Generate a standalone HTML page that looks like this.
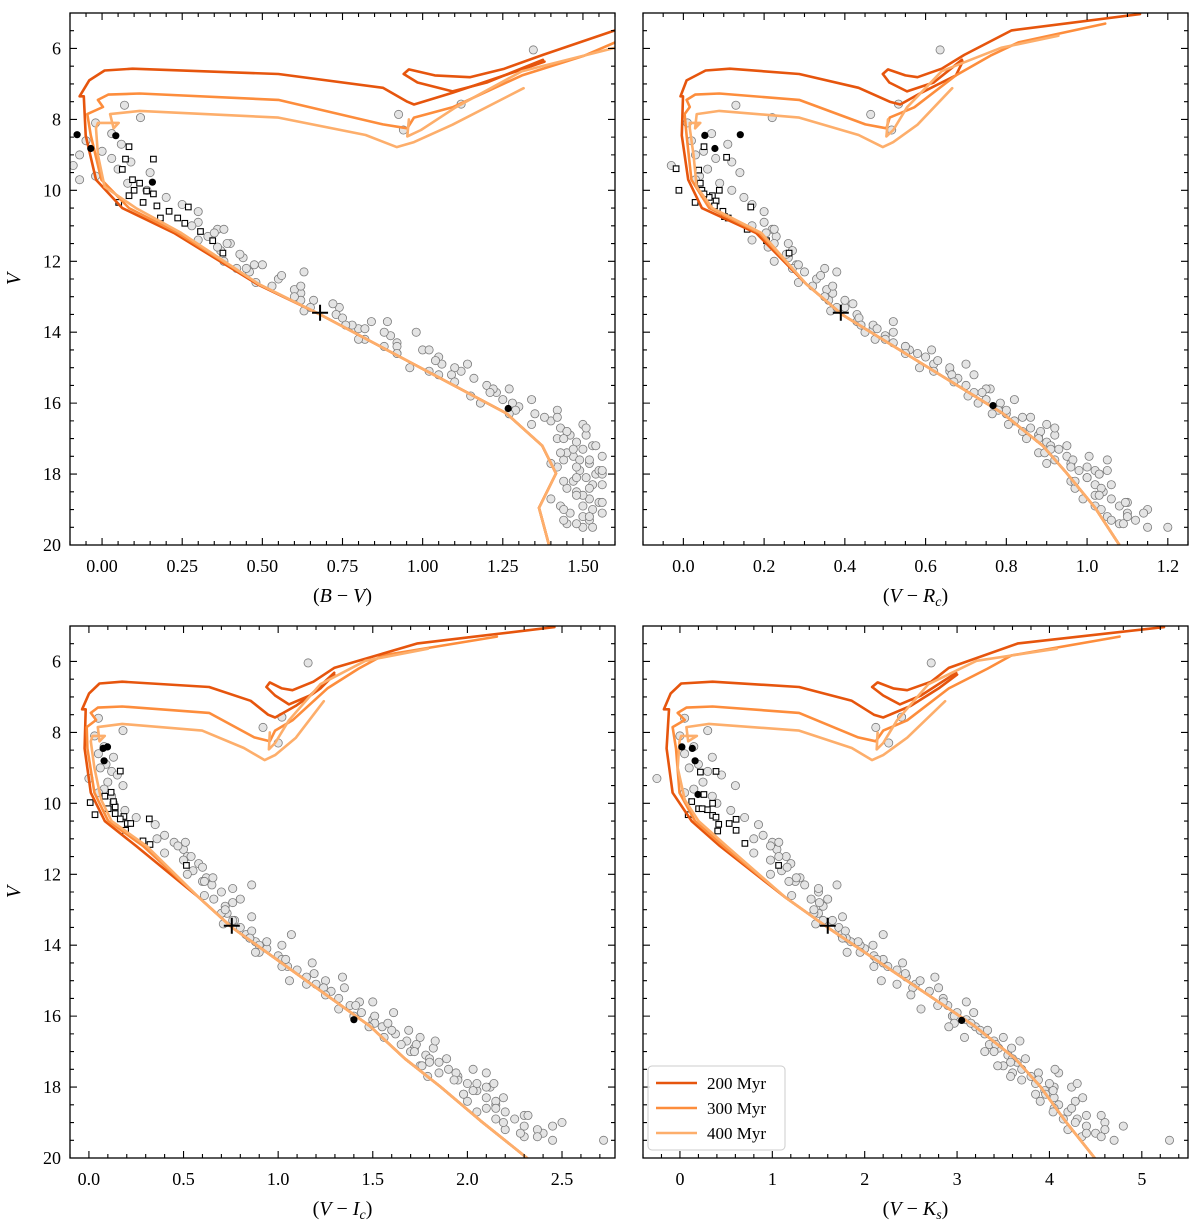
<!DOCTYPE html>
<html><head><meta charset="utf-8"><style>
html,body{margin:0;padding:0;background:#fff;}
svg{display:block;}
text{font-family:"Liberation Serif",serif;fill:#000;}
</style></head><body>
<svg id="chart" width="1200" height="1225" viewBox="0 0 1200 1225" xmlns="http://www.w3.org/2000/svg"></svg>
<script>
// ---- star data (shared V, per-panel colours) ----
const starV  =[7.6,7.95,8.1,8.4,8.6,8.7,8.9,9.0,9.1,9.2,9.3,9.4,9.5,9.6,9.7,9.8,10.0,10.2,10.4,10.6,10.9,11.1,11.3,11.5,11.7,11.9,12.1,12.3,12.5,12.7,12.9,13.1,13.3,13.5,13.7,13.9,14.1,14.0,14.3,14.5,14.7,14.6,14.9,15.1,15.3,15.5,15.7,15.9,16.1,16.3,16.5,16.7,16.9,17.1,17.3,17.5,17.7,17.9,18.1,18.3,18.5,18.7,18.9,19.1,19.3,19.5,17.0,17.6,18.0,18.4,18.8,19.4,15.2,13.1,12.2,14.2,16.6,17.8,19.0,16.0,6.04,7.86,8.3,7.57,16.4,16.8,17.2,17.4,17.9,18.2,18.6,19.2,19.5,15.6,16.2,17.6,18.9,15.0,14.4,13.8,
 11.0,11.2,11.4,11.6,11.8,12.0,12.2,12.4,12.6,12.8,13.0,13.2,13.4,13.6,13.8,14.0,14.2,14.4,14.6,14.8,15.0,15.2,15.4,15.6,15.8,16.0,16.2,16.4,16.6,16.8,17.0,17.2,17.4,17.6,17.8,18.0,18.2,18.4,18.6,18.8,19.0,19.2,19.4,
 11.1,11.5,12.1,12.7,13.3,13.9,14.5,15.1,15.7,16.3,16.9,17.3,17.7,17.9,18.3,18.7,19.1,19.3,18.1,17.5,16.7,15.9,13.7,12.3,14.9];
const starBV =[0.07,0.12,-0.02,0.03,-0.05,0.06,0.0,-0.07,0.03,0.09,-0.09,0.05,0.15,-0.02,-0.07,0.08,0.14,0.2,0.25,0.3,0.3,0.36,0.33,0.4,0.37,0.44,0.5,0.46,0.55,0.53,0.62,0.66,0.74,0.73,0.84,0.8,0.9,0.98,0.92,1.0,1.05,0.92,1.06,1.12,1.16,1.2,1.23,1.25,1.3,1.35,1.4,1.43,1.46,1.48,1.5,1.47,1.52,1.49,1.51,1.53,1.48,1.52,1.5,1.46,1.52,1.5,1.42,1.44,1.54,1.45,1.55,1.45,1.05,0.62,0.42,0.82,1.5,1.42,1.53,1.18,1.345,0.925,0.94,1.12,1.38,1.45,1.53,1.45,1.55,1.47,1.5,1.5,1.53,1.27,1.42,1.49,1.43,1.1,0.88,0.78,
 0.28,0.35,0.30,0.36,0.43,0.38,0.45,0.56,0.48,0.60,0.6,0.72,0.63,0.75,0.76,0.88,0.80,0.92,0.92,1.04,0.96,1.09,1.1,1.22,1.15,1.28,1.29,1.42,1.34,1.45,1.44,1.54,1.43,1.52,1.48,1.56,1.44,1.52,1.48,1.56,1.44,1.52,1.48,
 0.38,0.39,0.475,0.62,0.65,0.82,1.02,1.02,1.21,1.27,1.51,1.47,1.40,1.56,1.56,1.40,1.56,1.44,1.48,1.56,1.51,1.34,0.89,0.63,1.14];
const starVR =[0.13,0.22,0.01,0.07,0.02,0.11,0.05,0.03,0.08,0.12,-0.03,0.06,0.14,0.04,0.03,0.09,0.12,0.15,0.17,0.2,0.2,0.22,0.23,0.26,0.27,0.26,0.28,0.3,0.33,0.32,0.37,0.36,0.4,0.43,0.43,0.47,0.5,0.45,0.52,0.56,0.6,0.58,0.62,0.66,0.68,0.7,0.72,0.75,0.78,0.8,0.82,0.86,0.88,0.9,0.93,0.95,0.96,0.98,1.0,1.02,1.04,1.06,1.08,1.1,1.12,1.15,0.85,0.92,1.03,0.97,1.1,1.08,0.72,0.4,0.35,0.5,0.9,1.0,1.15,0.73,0.636,0.464,0.516,0.533,0.84,0.84,0.91,0.88,1.02,0.96,1.02,1.05,1.2,0.76,0.8,1.05,1.02,0.66,0.55,0.47,
 0.17,0.205,0.17,0.21,0.255,0.225,0.27,0.34,0.285,0.355,0.35,0.42,0.365,0.435,0.44,0.52,0.475,0.55,0.55,0.63,0.585,0.665,0.67,0.75,0.705,0.785,0.78,0.86,0.805,0.885,0.88,0.95,0.895,0.965,0.96,1.03,0.97,1.035,1.03,1.095,1.035,1.1,1.09,
 0.225,0.225,0.285,0.37,0.38,0.48,0.615,0.62,0.74,0.765,0.92,0.91,0.90,1.05,1.06,0.99,1.14,1.06,1.0,1.005,0.92,0.82,0.52,0.38,0.7];
const starVI =[0.05,0.18,0.03,0.08,0.05,0.13,0.09,0.06,0.12,0.15,0.0,0.1,0.18,0.08,0.05,0.12,0.13,0.19,0.25,0.35,0.4,0.45,0.5,0.52,0.58,0.55,0.62,0.65,0.7,0.66,0.72,0.73,0.77,0.8,0.83,0.88,0.94,0.9,1.0,1.03,1.1,1.05,1.15,1.2,1.28,1.32,1.38,1.44,1.5,1.55,1.62,1.68,1.72,1.78,1.85,1.9,1.95,2.0,2.05,2.1,2.15,2.2,2.25,2.3,2.4,2.45,1.7,1.85,2.12,2.0,2.3,2.3,1.35,0.7,0.6,0.9,1.75,1.95,2.5,1.4,1.158,0.92,1.0,1.02,1.6,1.65,1.8,1.75,2.05,1.98,2.1,2.2,2.72,1.5,1.58,2.1,2.15,1.25,1.02,0.85,
 0.36,0.47,0.40,0.50,0.60,0.52,0.61,0.76,0.61,0.76,0.72,0.86,0.71,0.86,0.85,1.02,0.88,1.04,1.02,1.19,1.06,1.24,1.25,1.43,1.32,1.51,1.51,1.69,1.56,1.73,1.72,1.89,1.76,1.94,1.93,2.1,1.98,2.15,2.15,2.32,2.19,2.37,2.37,
 0.51,0.54,0.655,0.80,0.76,0.94,1.18,1.15,1.41,1.48,1.82,1.8,1.79,2.14,2.19,2.05,2.45,2.28,2.03,2.03,1.83,1.61,1.07,0.86,1.34];
const starVK =[0.05,0.3,0.0,0.15,0.05,0.35,0.2,0.1,0.3,0.45,-0.25,0.25,0.6,0.15,0.05,0.35,0.4,0.55,0.7,0.85,0.9,1.0,1.05,1.15,1.2,1.1,1.3,1.35,1.5,1.42,1.55,1.5,1.65,1.72,1.75,1.85,2.0,1.95,2.1,2.2,2.35,2.25,2.45,2.55,2.7,2.85,2.9,3.0,3.1,3.2,3.3,3.4,3.45,3.55,3.65,3.7,3.8,3.85,3.95,4.05,4.1,4.2,4.3,4.4,4.5,4.7,3.3,3.6,4.05,3.9,4.4,4.35,2.8,1.45,1.25,1.95,3.5,3.7,4.6,2.95,2.72,2.12,2.26,2.4,3.25,3.35,3.6,3.5,4.0,3.85,4.05,4.2,5.3,3.1,3.15,4.1,4.15,2.6,2.2,1.8,
 0.8,0.98,0.80,0.98,1.16,0.98,1.18,1.5,1.21,1.51,1.45,1.76,1.47,1.79,1.76,2.09,1.81,2.13,2.1,2.44,2.18,2.52,2.5,2.85,2.61,2.97,2.97,3.33,3.08,3.42,3.4,3.74,3.44,3.88,3.88,4.24,3.96,4.28,4.24,4.56,4.28,4.6,4.56,
 1.07,1.07,1.26,1.6,1.55,1.93,2.41,2.35,2.79,2.91,3.59,3.58,3.58,4.3,4.36,4.04,4.8,4.4,4.04,4.06,3.68,3.18,2.2,1.7,2.76];

// open squares per panel (colour, V)
const sqBVc=[0.084,0.16,0.073,0.063,0.095,0.117,0.16,0.269,0.1,0.128,0.171,0.209,0.182,0.236,0.307,0.258,0.052,0.084,0.139,0.345,0.377];
const sqBVv=[8.77,9.12,9.12,9.41,9.7,9.8,10.1,10.47,10.0,10.34,10.44,10.59,10.78,10.78,11.16,10.93,10.34,10.15,10.02,11.42,11.77];
const sqVRc=[-0.018,-0.011,0.038,0.051,0.107,0.046,0.072,0.081,0.167,0.098,0.029,0.111,0.158,0.206,0.262,0.102,0.077,0.064,0.042,0.051,0.089];
const sqVRv=[9.39,10.0,9.43,8.77,9.07,10.0,10.15,10.3,10.47,10.59,10.34,10.78,11.1,11.42,11.77,10.74,10.44,10.2,9.8,10.1,10.0];
const sqVIc=[0.007,0.032,0.139,0.166,0.13,0.185,0.319,0.203,0.221,0.194,0.286,0.323,0.515,0.139,0.102,0.117,0.166,0.084];
const sqVIv=[9.98,10.32,10.1,9.09,9.95,10.37,10.44,10.57,10.57,10.76,11.06,11.16,11.75,10.29,10.15,9.69,10.44,9.8];
const sqVKc=[0.089,0.202,0.296,0.39,0.353,0.39,0.608,0.42,0.533,0.608,0.409,0.703,1.068,0.353,0.259,0.221,0.127,0.24];
const sqVKv=[10.32,10.15,10.18,9.1,10.34,10.39,10.45,10.59,10.57,10.76,10.78,11.13,11.75,10.0,9.75,9.12,9.95,10.15];

// filled black dots per panel
const dotBVc=[-0.078,-0.035,0.043,0.157,1.267];
const dotBVv=[8.43,8.82,8.46,9.77,16.15];
const dotVRc=[0.053,0.078,0.141,0.767];
const dotVRv=[8.45,8.82,8.43,16.07];
const dotVIc=[0.075,0.098,0.08,1.4];
const dotVIv=[8.45,8.41,8.8,16.1];
const dotVKc=[0.021,0.134,0.164,0.195,3.05];
const dotVKv=[8.41,8.45,8.8,9.75,16.12];

// plus marker (colour) per panel, V
const plusC=[0.68,0.39,0.755,1.6];
const plusV=13.45;

// ---- isochrones ----
const i200V=[20,18.95,17.98,17.2,16.28,13.5,12.65,11.2,10.5,9.7,8.45,7.35,7.35,6.9,6.62,6.57,6.72,7.11,7.5,7.58,7.25,6.76,6.37];
const i200BV=[1.394,1.363,1.416,1.373,1.26,0.68,0.485,0.224,0.063,-0.019,-0.051,-0.057,-0.07,-0.04,0.008,0.095,0.55,0.876,0.952,0.973,1.093,1.255,1.38];
const i200VR=[1.08,1.02,0.95,0.89,0.79,0.393,0.305,0.18,0.046,0.012,-0.004,-0.001,-0.007,0.008,0.055,0.115,0.287,0.434,0.511,0.537,0.589,0.675,0.692];
const i200VI=[2.315,2.07,1.855,1.67,1.485,0.756,0.58,0.249,0.084,0.01,-0.023,-0.017,-0.036,0.001,0.056,0.176,0.635,0.855,0.947,0.984,1.094,1.223,1.296];
const i200VK=[4.49,4.17,3.9,3.63,3.19,1.6,1.14,0.43,0.127,-0.08,-0.144,-0.118,-0.174,-0.1,0.014,0.353,1.29,1.86,2.1,2.2,2.5,2.8,3.0];
const l200V=[5.03,5.49,6.18,6.57,6.81,6.76,6.59,6.72,6.96,7.21,6.96,6.32];
const l200BV=[1.85,1.6,1.375,1.255,1.147,1.038,0.957,0.941,0.984,1.093,1.2,1.375];
const l200VR=[1.131,0.813,0.696,0.64,0.58,0.55,0.507,0.494,0.51,0.554,0.62,0.69];
const l200VI=[2.46,1.737,1.296,1.186,1.076,1.02,0.956,0.938,0.984,1.057,1.168,1.296];
const l200VK=[5.24,3.66,2.91,2.72,2.46,2.31,2.14,2.08,2.2,2.38,2.61,2.99];

const i300V=[20,18.95,17.98,17.2,16.28,13.5,12.65,11.2,10.5,9.7,8.45,7.85,7.65,7.45,7.3,7.27,7.45,8.14,8.25,7.95,7.66,6.76,6.2,5.83,5.3];
const i300BV=[1.394,1.363,1.416,1.373,1.26,0.68,0.49,0.236,0.084,-0.002,-0.035,-0.046,0.003,-0.013,0.019,0.117,0.55,0.876,0.952,0.973,1.093,1.31,1.505,1.6,1.9];
const i300VR=[1.08,1.02,0.95,0.89,0.79,0.393,0.305,0.188,0.064,0.02,0.008,0.003,0.016,0.008,0.029,0.089,0.287,0.451,0.503,0.511,0.572,0.675,0.761,0.83,1.045];
const i300VI=[2.315,2.07,1.855,1.67,1.485,0.756,0.58,0.286,0.102,0.029,-0.008,-0.012,0.038,0.01,0.047,0.176,0.635,0.874,0.956,0.984,1.076,1.26,1.425,1.553,2.156];
const i300VK=[4.49,4.17,3.9,3.63,3.19,1.6,1.14,0.465,0.164,-0.005,-0.043,-0.08,0.052,-0.024,0.07,0.353,1.29,1.93,2.12,2.2,2.46,2.91,3.33,3.59,4.76];

const i400V=[20,18.95,17.98,17.2,16.28,13.5,12.65,11.2,10.5,9.9,9.0,8.25,8.1,8.1,8.25,7.85,7.76,7.95,8.44,8.78,8.64,8.15,7.12];
const i400BV=[1.394,1.363,1.416,1.373,1.26,0.68,0.49,0.247,0.106,0.008,-0.013,-0.019,-0.013,0.052,0.036,0.025,0.117,0.55,0.822,0.919,0.973,1.093,1.315];
const i400VR=[1.08,1.02,0.95,0.89,0.79,0.393,0.305,0.193,0.072,0.033,0.025,0.016,0.016,0.042,0.029,0.033,0.089,0.287,0.434,0.494,0.52,0.58,0.666];
const i400VI=[2.315,2.07,1.855,1.67,1.485,0.756,0.58,0.304,0.12,0.065,0.029,0.01,0.019,0.084,0.056,0.047,0.176,0.598,0.819,0.929,0.984,1.094,1.241];
const i400VK=[4.49,4.17,3.9,3.63,3.19,1.6,1.14,0.503,0.202,0.052,-0.024,-0.005,0.014,0.183,0.089,0.07,0.315,1.29,1.86,2.08,2.2,2.46,2.87];
const l400V=[8.0,8.48,8.3,7.66,6.64,5.98,5.64];
const l400BV=[0.957,0.952,0.995,1.103,1.31,1.6,1.75];
const l400VR=[0.507,0.503,0.52,0.554,0.64,0.787,0.929];
const l400VI=[0.956,0.951,0.984,1.057,1.223,1.461,1.792];
const l400VK=[2.14,2.13,2.2,2.35,2.69,3.21,4.08];

const ageLabels=["200 Myr","300 Myr","400 Myr"];
const ageColors=["#e6550d","#fd8d3c","#fdae6b"];
const yTicks=[6,8,10,12,14,16,18,20];

const NS="http://www.w3.org/2000/svg";
const svg=document.getElementById('chart');
function mk(tag,attrs,parent){const e=document.createElementNS(NS,tag);for(const k in attrs)e.setAttribute(k,attrs[k]);(parent||svg).appendChild(e);return e;}

const panels=[
 {key:'bv',left:70,top:13,xmin:-0.1,xmax:1.6,ticks:[0,0.25,0.5,0.75,1.0,1.25,1.5],tl:["0.00","0.25","0.50","0.75","1.00","1.25","1.50"],minor:0.05,title:["B","V"],sub:"",ylab:true,
  stars:starBV,sqc:sqBVc,sqv:sqBVv,dc:dotBVc,dv:dotBVv,plus:plusC[0],iso:[[i200BV,i200V],[i300BV,i300V],[i400BV,i400V]],loops:[[l200BV,l200V,0],[l400BV,l400V,2]]},
 {key:'vr',left:643,top:13,xmin:-0.1,xmax:1.25,ticks:[0,0.2,0.4,0.6,0.8,1.0,1.2],tl:["0.0","0.2","0.4","0.6","0.8","1.0","1.2"],minor:0.05,title:["V","R"],sub:"c",ylab:false,
  stars:starVR,sqc:sqVRc,sqv:sqVRv,dc:dotVRc,dv:dotVRv,plus:plusC[1],iso:[[i200VR,i200V],[i300VR,i300V],[i400VR,i400V]],loops:[[l200VR,l200V,0],[l400VR,l400V,2]]},
 {key:'vi',left:70,top:626,xmin:-0.1,xmax:2.78,ticks:[0,0.5,1.0,1.5,2.0,2.5],tl:["0.0","0.5","1.0","1.5","2.0","2.5"],minor:0.1,title:["V","I"],sub:"c",ylab:true,
  stars:starVI,sqc:sqVIc,sqv:sqVIv,dc:dotVIc,dv:dotVIv,plus:plusC[2],iso:[[i200VI,i200V],[i300VI,i300V],[i400VI,i400V]],loops:[[l200VI,l200V,0],[l400VI,l400V,2]]},
 {key:'vk',left:643,top:626,xmin:-0.4,xmax:5.5,ticks:[0,1,2,3,4,5],tl:["0","1","2","3","4","5"],minor:0.2,title:["V","K"],sub:"s",ylab:false,
  stars:starVK,sqc:sqVKc,sqv:sqVKv,dc:dotVKc,dv:dotVKv,plus:plusC[3],iso:[[i200VK,i200V],[i300VK,i300V],[i400VK,i400V]],loops:[[l200VK,l200V,0],[l400VK,l400V,2]]}
];
const W=545,H=532;

panels.forEach((p,pi)=>{
  const X=c=>p.left+(c-p.xmin)/(p.xmax-p.xmin)*W;
  const Y=v=>p.top+(v-5)/15*H;
  const g=mk('g',{});
  
  
  const cp=mk('clipPath',{id:'clip'+pi},g);
  mk('rect',{x:p.left,y:p.top,width:W,height:H},cp);
  const plot=mk('g',{'clip-path':'url(#clip'+pi+')'},g);
  
  
  for(let i=0;i<starV.length;i++){
    const c=mk('circle',{cx:X(p.stars[i]).toFixed(1),cy:Y(starV[i]).toFixed(1),r:4.1,fill:'#e4e4e4',stroke:'#7a7a7a','stroke-width':0.8},plot);
    
    
  }
  for(let i=0;i<p.sqc.length;i++){
    const s=mk('rect',{x:(X(p.sqc[i])-2.8).toFixed(1),y:(Y(p.sqv[i])-2.8).toFixed(1),width:5.6,height:5.6,fill:'#fff',stroke:'#000','stroke-width':1.1},plot);
    
    
  }
  p.iso.forEach((iso,k)=>{
    const pts=iso[0].map((c,j)=>X(c).toFixed(1)+','+Y(iso[1][j]).toFixed(1)).join(' ');
    const l=mk('polyline',{points:pts,fill:'none',stroke:ageColors[k],'stroke-width':2.6,'stroke-linejoin':'round','stroke-linecap':'round'},plot);
    
    
  });
  p.loops.forEach(lp=>{
    const pts=lp[0].map((c,j)=>X(c).toFixed(1)+','+Y(lp[1][j]).toFixed(1)).join(' ');
    const l=mk('polyline',{points:pts,fill:'none',stroke:ageColors[lp[2]],'stroke-width':2.6,'stroke-linejoin':'round','stroke-linecap':'round'},plot);
    
    
  });
  for(let i=0;i<p.dc.length;i++){
    const d=mk('circle',{cx:X(p.dc[i]).toFixed(1),cy:Y(p.dv[i]).toFixed(1),r:3.6,fill:'#000'},plot);
    
    
  }
  const px=X(p.plus),py=Y(plusV);
  const pl=mk('path',{d:`M${px-8},${py}H${px+8}M${px},${py-8}V${py+8}`,stroke:'#000','stroke-width':2,fill:'none'},plot);
  
  
  const fr=mk('rect',{x:p.left,y:p.top,width:W,height:H,fill:'none',stroke:'#000','stroke-width':1.3},g);
  
  
  let d='';
  const bot=p.top+H,right=p.left+W;
  for(let v=5;v<=20.001;v+=0.5){
    const y=Y(v),len=(Math.abs(v-Math.round(v/2)*2)<0.01)?7:4;
    d+=`M${p.left},${y}h${len}M${right},${y}h${-len}`;
  }
  const mstart=Math.ceil(p.xmin/p.minor-1e-6);
  for(let m=mstart;m*p.minor<=p.xmax+1e-9;m++){
    const c=m*p.minor,x=X(c);
    const isMaj=p.ticks.some(t=>Math.abs(t-c)<1e-6);
    const len=isMaj?7:4;
    d+=`M${x},${bot}v${-len}M${x},${p.top}v${len}`;
  }
  const tk=mk('path',{d:d,stroke:'#000','stroke-width':1.1,fill:'none'},g);
  
  
  p.ticks.forEach((t,i)=>{
    const tx=mk('text',{x:X(t),y:bot+27,'text-anchor':'middle','font-size':18},g);
    tx.textContent=p.tl[i];
    
    
  });
  if(p.ylab){
    yTicks.forEach(t=>{
      const tx=mk('text',{x:p.left-9,y:Y(t)+6,'text-anchor':'end','font-size':18},g);
      tx.textContent=String(t);
      
      
    });
    const yl=mk('text',{x:0,y:0,transform:`translate(20,${p.top+H/2}) rotate(-90)`,'text-anchor':'middle','font-size':20,'font-style':'italic'},g);
    yl.textContent='V';
    
    
  }
  const xt=mk('text',{x:p.left+W/2,y:bot+57,'text-anchor':'middle','font-size':20},g);
  
  
  const s1=mk('tspan',{},xt);s1.textContent='(';
  const s2=mk('tspan',{'font-style':'italic'},xt);s2.textContent=p.title[0];
  const s3=mk('tspan',{},xt);s3.textContent=' \u2212 ';
  const s4=mk('tspan',{'font-style':'italic'},xt);s4.textContent=p.title[1];
  if(p.sub){const s5=mk('tspan',{'font-style':'italic','font-size':14,dy:4},xt);s5.textContent=p.sub;
    const s6=mk('tspan',{dy:-4},xt);s6.textContent=')';}
  else{const s6=mk('tspan',{},xt);s6.textContent=')';}
});

const lg=mk('g',{});


mk('rect',{x:648,y:1066,width:137,height:84,rx:4,fill:'#fff','fill-opacity':0.85,stroke:'#ccc','stroke-width':1},lg);
ageLabels.forEach((lab,k)=>{
  const y=1083+k*25;
  const e=mk('g',{},lg);
  
  
  mk('line',{x1:656,x2:697,y1:y,y2:y,stroke:ageColors[k],'stroke-width':2.6},e);
  const t=mk('text',{x:707,y:y+6,'font-size':17},e);
  t.textContent=lab;
});
</script>
</body></html>
